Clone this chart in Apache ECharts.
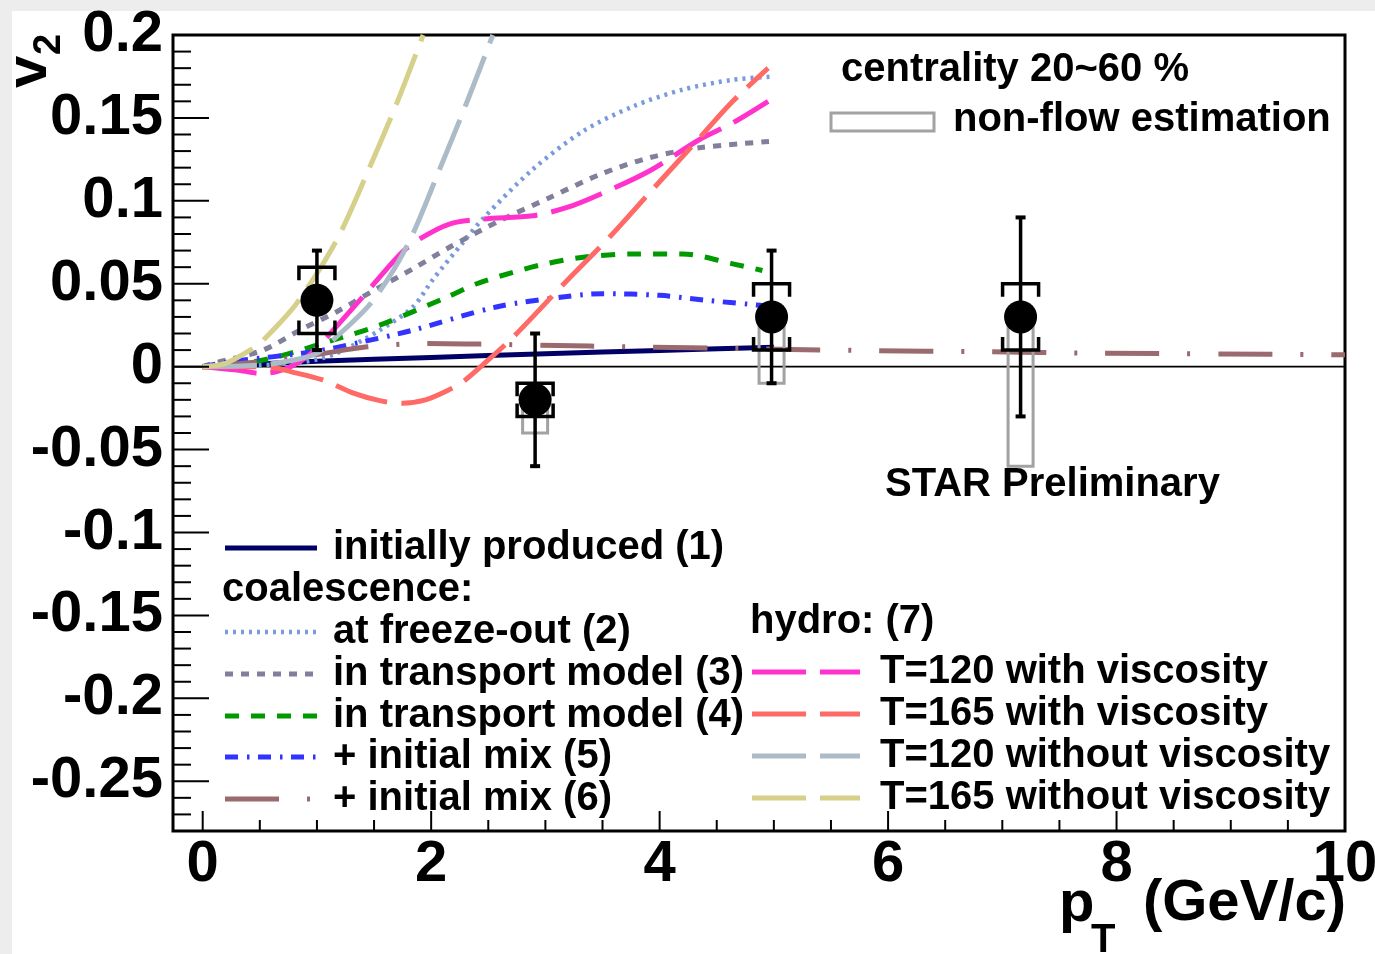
<!DOCTYPE html>
<html>
<head>
<meta charset="utf-8">
<script src="https://cdn.jsdelivr.net/npm/echarts@6/dist/echarts.min.js"></script>
<style>
  html, body { margin: 0; padding: 0; background: #ffffff; }
  #chart { width: 1375px; height: 954px; }
</style>
</head>
<body>
<div id="chart"></div>
<script>
// ---- measured v2 points (pT in GeV/c) ----
const ptX      = [1.0, 2.91, 4.98, 7.16];
const ptY      = [0.040, -0.020, 0.030, 0.030];
const statErr  = [0.030, 0.040, 0.040, 0.060];
const sysErr   = [0.020, 0.010, 0.020, 0.020];
const nonFlow  = [0.000, 0.020, 0.040, 0.090];

// ---- model curves [pT, v2] ----
const initialProduced = [[0,0],[1,0.0032],[2,0.0056],[3,0.0078],[4,0.0098],[5,0.0117]];
const coalFreezeOut = [[0,0],[0.5,0.0008],[0.9,0.003],[1.17,0.008],[1.55,0.022],[1.84,0.036],[2.02,0.053],[2.28,0.075],[2.45,0.089],[2.89,0.119],[3.33,0.142],[3.77,0.157],[4.2,0.167],[4.64,0.173],[5,0.175]];
const coalTransport3 = [[0,0],[0.09,0.002],[0.53,0.010],[0.85,0.022],[1.17,0.033],[1.55,0.048],[1.84,0.059],[2.16,0.072],[2.6,0.088],[3.04,0.102],[3.48,0.116],[3.91,0.126],[4.35,0.132],[5,0.136]];
const coalTransport4 = [[0,0],[0.53,0.004],[1.14,0.016],[1.55,0.025],[2.14,0.042],[2.4,0.050],[2.72,0.057],[3.0,0.062],[3.33,0.066],[3.77,0.068],[4.2,0.068],[4.64,0.062],[4.9,0.058]];
const coalMix5 = [[0,0],[0.24,0.003],[0.97,0.009],[1.4,0.015],[1.84,0.022],[2.57,0.036],[3.15,0.042],[3.5,0.044],[4.0,0.043],[4.41,0.040],[4.88,0.037],[5,0.036]];
const coalMix6 = [[0,0],[0.5,0.003],[0.97,0.007],[1.44,0.012],[1.96,0.014],[2.43,0.0136],[3.39,0.0124],[5.14,0.0104],[5.84,0.0097],[6.83,0.009],[7.79,0.0082],[10,0.0072]];
const hydroT120Visc = [[0,0],[0.3,-0.002],[0.5,-0.004],[0.65,-0.003],[0.8,0.001],[0.95,0.008],[1.09,0.018],[1.4,0.042],[1.73,0.068],[1.9,0.077],[2.16,0.086],[2.45,0.089],[2.89,0.091],[3.19,0.096],[3.48,0.104],[3.91,0.118],[4.35,0.137],[4.64,0.147],[4.95,0.160]];
const hydroT165Visc = [[0,0],[0.4,0],[0.65,-0.001],[0.77,-0.003],[1.05,-0.008],[1.32,-0.016],[1.55,-0.0205],[1.75,-0.022],[1.95,-0.020],[2.14,-0.0145],[2.28,-0.009],[2.45,0.001],[2.72,0.018],[3.19,0.052],[3.56,0.078],[3.94,0.107],[4.35,0.138],[4.64,0.160],[4.95,0.180]];
const hydroT120Ideal = [[0,0],[0.5,0.001],[0.8,0.004],[1.0,0.008],[1.14,0.016],[1.48,0.039],[1.79,0.073],[2.08,0.120],[2.31,0.159],[2.54,0.200]];
const hydroT165Ideal = [[0,0],[0.2,0.002],[0.44,0.011],[0.53,0.016],[0.82,0.038],[1.17,0.076],[1.46,0.120],[1.7,0.159],[1.93,0.200]];

// ---- axes ----
const X_MIN = -0.26, X_MAX = 10;
const Y_MIN = -0.28, Y_MAX = 0.2;
const xTickVals   = [0, 2, 4, 6, 8, 10];
const xTickLabels = ['0', '2', '4', '6', '8', '10'];
const yTickVals   = [-0.25, -0.2, -0.15, -0.1, -0.05, 0, 0.05, 0.1, 0.15, 0.2];
const yTickLabels = ['-0.25', '-0.2', '-0.15', '-0.1', '-0.05', '0', '0.05', '0.1', '0.15', '0.2'];

// minor ticks: every 0.5 on x, every 0.01 on y
const xMinorVals = [];
for (let i = 1; i <= 19; i++) { const v = i * 0.5; if (i % 4 !== 0) xMinorVals.push(v); }
const yMinorVals = [];
for (let i = -28; i <= 20; i++) { if (i % 5 !== 0) yMinorVals.push(i / 100); }

const FONT_FAMILY = '"Liberation Sans", Arial, Helvetica, sans-serif';
const TEXT_FONT = 'bold 40px ' + FONT_FAMILY;

// ---- curve appearance and legend slots ----
const curves = [
  { name: 'initially produced (1)', data: initialProduced, color: '#000066', dash: 'solid',            width: 5,   lx: 225, ly: 548 },
  { name: 'at freeze-out (2)',      data: coalFreezeOut,  color: '#7a9ade', dash: [3, 5],              width: 4.5, lx: 225, ly: 632 },
  { name: 'in transport model (3)', data: coalTransport3, color: '#80809c', dash: [8, 8],              width: 5,   lx: 225, ly: 674 },
  { name: 'in transport model (4)', data: coalTransport4, color: '#009900', dash: [14, 12],            width: 5,   lx: 225, ly: 716 },
  { name: '+ initial mix (5)',      data: coalMix5,       color: '#3333ff', dash: [13, 9, 2.5, 8.5],   width: 5,   lx: 225, ly: 757 },
  { name: '+ initial mix (6)',      data: coalMix6,       color: '#9a6a6e', dash: [54, 28, 3, 28],     width: 5,   lx: 225, ly: 799 },
  { name: 'T=120 with viscosity',   data: hydroT120Visc,  color: '#ff33cc', dash: [54, 14],            width: 5,   lx: 752, ly: 672 },
  { name: 'T=165 with viscosity',   data: hydroT165Visc,  color: '#ff6a66', dash: [54, 14],            width: 5,   lx: 752, ly: 714 },
  { name: 'T=120 without viscosity',data: hydroT120Ideal, color: '#abbcc8', dash: [54, 14],            width: 5,   lx: 752, ly: 756 },
  { name: 'T=165 without viscosity',data: hydroT165Ideal, color: '#d6d08a', dash: [54, 14],            width: 5,   lx: 752, ly: 798 }
];

const chart = echarts.init(document.getElementById('chart'), null, { renderer: 'canvas' });

function labelFor(vals, labels) {
  return function (v) {
    const i = vals.findIndex(t => Math.abs(t - v) < 1e-9);
    return i >= 0 ? labels[i] : '';
  };
}

const curveSeries = curves.map(c => ({
  name: c.name,
  type: 'line',
  data: c.data,
  smooth: 0.3,
  showSymbol: false,
  symbol: 'none',
  silent: true,
  z: 2,
  lineStyle: { color: c.color, width: c.width, type: c.dash, cap: 'butt', join: 'round' }
}));

const pointData = ptX.map((x, i) => [x, ptY[i], statErr[i], sysErr[i], nonFlow[i]]);

const seriesList = [
  // y = 0 reference line
  {
    type: 'line', data: [[X_MIN, 0], [X_MAX, 0]], symbol: 'none', silent: true, z: 1,
    lineStyle: { color: '#000', width: 1.6 }
  },
  ...curveSeries,
  // non-flow estimation boxes
  {
    type: 'custom', data: pointData, z: 3, silent: true,
    renderItem: function (params, api) {
      const x = api.value(0), y = api.value(1), nf = api.value(4);
      if (!nf) return null;
      const a = api.coord([x, y]), b = api.coord([x, y - nf]);
      return {
        type: 'rect',
        shape: { x: a[0] - 12.5, y: a[1], width: 25, height: b[1] - a[1] },
        style: { fill: 'none', stroke: '#a2a2a2', lineWidth: 3 }
      };
    }
  },
  // statistical error bars
  {
    type: 'custom', data: pointData, z: 4, silent: true,
    renderItem: function (params, api) {
      const x = api.value(0), y = api.value(1), e = api.value(2);
      const t = api.coord([x, y + e]), b = api.coord([x, y - e]);
      const st = { stroke: '#000', lineWidth: 3.5 };
      return {
        type: 'group', children: [
          { type: 'line', shape: { x1: t[0], y1: t[1], x2: b[0], y2: b[1] }, style: st },
          { type: 'line', shape: { x1: t[0] - 5, y1: t[1], x2: t[0] + 5, y2: t[1] }, style: { stroke: '#000', lineWidth: 4 } },
          { type: 'line', shape: { x1: b[0] - 5, y1: b[1], x2: b[0] + 5, y2: b[1] }, style: { stroke: '#000', lineWidth: 4 } }
        ]
      };
    }
  },
  // systematic brackets
  {
    type: 'custom', data: pointData, z: 5, silent: true,
    renderItem: function (params, api) {
      const x = api.value(0), y = api.value(1), s = api.value(3);
      const t = api.coord([x, y + s]), b = api.coord([x, y - s]);
      const hw = 18, leg = 13;
      const st = { stroke: '#000', lineWidth: 3.5, fill: 'none' };
      return {
        type: 'group', children: [
          { type: 'polyline', shape: { points: [[t[0] - hw, t[1] + leg], [t[0] - hw, t[1]], [t[0] + hw, t[1]], [t[0] + hw, t[1] + leg]] }, style: st },
          { type: 'polyline', shape: { points: [[b[0] - hw, b[1] - leg], [b[0] - hw, b[1]], [b[0] + hw, b[1]], [b[0] + hw, b[1] - leg]] }, style: st }
        ]
      };
    }
  },
  // data markers
  {
    type: 'scatter', data: ptX.map((x, i) => [x, ptY[i]]), z: 6, silent: true,
    symbol: 'circle', symbolSize: 33, itemStyle: { color: '#000', opacity: 1 }
  },
  // x-axis tick marks
  {
    type: 'custom', z: 7, silent: true, clip: false,
    data: xTickVals.map(v => [v, Y_MIN, 1]).concat(xMinorVals.map(v => [v, Y_MIN, 0])),
    renderItem: function (params, api) {
      const p = api.coord([api.value(0), api.value(1)]);
      const len = api.value(2) ? 20 : 11;
      return { type: 'line', shape: { x1: p[0], y1: p[1], x2: p[0], y2: p[1] - len }, style: { stroke: '#000', lineWidth: 2 } };
    }
  },
  // y-axis tick marks
  {
    type: 'custom', z: 7, silent: true, clip: false,
    data: yTickVals.map(v => [X_MIN, v, 1]).concat(yMinorVals.map(v => [X_MIN, v, 0])),
    renderItem: function (params, api) {
      const p = api.coord([api.value(0), api.value(1)]);
      const len = api.value(2) ? 36 : 18;
      return { type: 'line', shape: { x1: p[0], y1: p[1], x2: p[0] + len, y2: p[1] }, style: { stroke: '#000', lineWidth: 2 } };
    }
  }
];

// legend block drawn as graphic elements
const graphics = [
  { type: 'rect', x: 0, y: 0, shape: { width: 1375, height: 11 }, style: { fill: '#ededed' }, z: 0, silent: true },
  { type: 'rect', x: 0, y: 0, shape: { width: 12, height: 954 }, style: { fill: '#ededed' }, z: 0, silent: true }
];
curves.forEach(c => {
  const len = c.lx < 500 ? 92 : 108;
  graphics.push({
    type: 'line', silent: true, z: 10,
    shape: { x1: c.lx, y1: c.ly, x2: c.lx + len, y2: c.ly },
    style: { stroke: c.color, lineWidth: c.width, lineDash: c.dash === 'solid' ? null : c.dash, lineCap: 'butt' }
  });
  graphics.push({
    type: 'text', silent: true, z: 10,
    x: c.lx < 500 ? 333 : 880, y: c.ly,
    style: { text: c.name, font: TEXT_FONT, fill: '#000', textAlign: 'left', textVerticalAlign: 'middle' }
  });
});
const freeTexts = [
  { t: 'coalescence:', x: 222, y: 590 },
  { t: 'hydro: (7)', x: 750, y: 622 },
  { t: 'centrality 20~60 %', x: 841, y: 70 },
  { t: 'non-flow estimation', x: 953, y: 120 },
  { t: 'STAR Preliminary', x: 885, y: 485 }
];
freeTexts.forEach(o => graphics.push({
  type: 'text', silent: true, z: 10, x: o.x, y: o.y,
  style: { text: o.t, font: TEXT_FONT, fill: '#000', textAlign: 'left', textVerticalAlign: 'middle' }
}));
// non-flow legend box
graphics.push({ type: 'rect', silent: true, z: 10, shape: { x: 831, y: 113, width: 103, height: 18 }, style: { fill: 'none', stroke: '#a2a2a2', lineWidth: 3 } });
// axis titles
graphics.push({ type: 'text', silent: true, z: 10, x: 30, y: 88, rotation: Math.PI / 2,
  style: { text: 'v', font: 'bold 58px ' + FONT_FAMILY, fill: '#000', textAlign: 'left', textVerticalAlign: 'middle' } });
graphics.push({ type: 'text', silent: true, z: 10, x: 50, y: 55, rotation: Math.PI / 2,
  style: { text: '2', font: 'bold 38px ' + FONT_FAMILY, fill: '#000', textAlign: 'left', textVerticalAlign: 'middle' } });
graphics.push({ type: 'text', silent: true, z: 10, x: 1059, y: 905,
  style: { text: 'p', font: 'bold 58px ' + FONT_FAMILY, fill: '#000', textAlign: 'left', textVerticalAlign: 'middle' } });
graphics.push({ type: 'text', silent: true, z: 10, x: 1091, y: 921,
  style: { text: 'T', font: 'bold 40px ' + FONT_FAMILY, fill: '#000', textAlign: 'left', textVerticalAlign: 'top' } });
graphics.push({ type: 'text', silent: true, z: 10, x: 1346, y: 904,
  style: { text: '(GeV/c)', font: 'bold 58px ' + FONT_FAMILY, fill: '#000', textAlign: 'right', textVerticalAlign: 'middle' } });

const option = {
  backgroundColor: '#ffffff',
  animation: false,
  grid: {
    left: 173, top: 35, width: 1172, height: 796,
    containLabel: false, outerBoundsMode: 'none',
    show: true, borderColor: '#000', borderWidth: 3, backgroundColor: 'transparent'
  },
  xAxis: {
    type: 'value', min: X_MIN, max: X_MAX,
    axisLine: { show: false }, axisTick: { show: false }, splitLine: { show: false },
    axisLabel: {
      customValues: xTickVals, formatter: labelFor(xTickVals, xTickLabels),
      fontSize: 58, fontWeight: 'bold', fontFamily: FONT_FAMILY, color: '#000', margin: 5
    }
  },
  yAxis: {
    type: 'value', min: Y_MIN, max: Y_MAX,
    axisLine: { show: false }, axisTick: { show: false }, splitLine: { show: false },
    axisLabel: {
      customValues: yTickVals, formatter: labelFor(yTickVals, yTickLabels),
      fontSize: 58, fontWeight: 'bold', fontFamily: FONT_FAMILY, color: '#000', margin: 10
    }
  },
  series: seriesList,
  graphic: graphics
};

chart.setOption(option);
</script>
</body>
</html>
